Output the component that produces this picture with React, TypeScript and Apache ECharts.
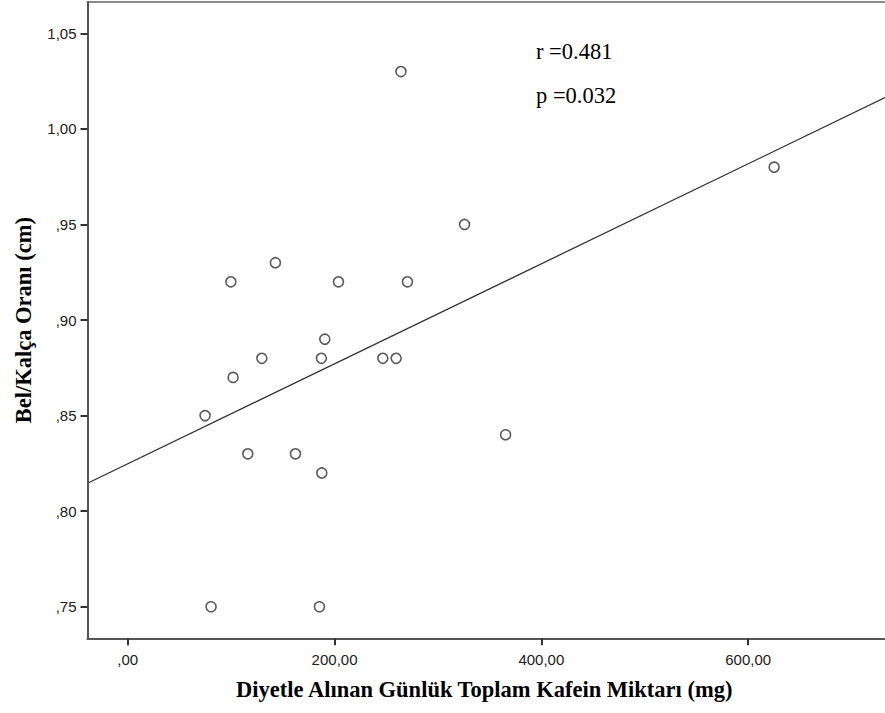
import React, { useEffect, useRef } from "react";
import * as echarts from "echarts";

const caffeineMg = [80.6, 185.4, 74.8, 101.9, 116.1, 129.7, 99.7, 142.8, 162.2, 187.7, 187.3, 190.6, 203.8, 246.7, 259.6, 264.2, 270.5, 325.7, 365.4, 625.1];
const waistHipRatio = [0.75, 0.75, 0.85, 0.87, 0.83, 0.88, 0.92, 0.93, 0.83, 0.82, 0.88, 0.89, 0.92, 0.88, 0.88, 1.03, 0.92, 0.95, 0.84, 0.98];
const xTicks = [0, 200, 400, 600];
const yTicks = [0.75, 0.8, 0.85, 0.9, 0.95, 1.0, 1.05];
const statLines = ["r =0.481", "p =0.032"];

const X_MIN = -38.9;
const X_MAX = 732.3;
const Y_MIN = 0.7335;
const Y_MAX = 1.0664;

function fmt(v: number): string {
  const s = v.toFixed(2).replace(".", ",");
  return s.startsWith("0,") ? s.slice(1) : s;
}

function regression(xs: number[], ys: number[]) {
  const n = xs.length;
  const mx = xs.reduce((a, b) => a + b, 0) / n;
  const my = ys.reduce((a, b) => a + b, 0) / n;
  let sxy = 0;
  let sxx = 0;
  for (let i = 0; i < n; i++) {
    sxy += (xs[i] - mx) * (ys[i] - my);
    sxx += (xs[i] - mx) * (xs[i] - mx);
  }
  const slope = sxy / sxx;
  return { slope, intercept: my - slope * mx };
}

export default function App() {
  const ref = useRef<HTMLDivElement>(null);
  useEffect(() => {
    if (!ref.current) return;
    const chart = echarts.init(ref.current, null, { renderer: "svg" });
    const { slope, intercept } = regression(caffeineMg, waistHipRatio);
    const fitLine = [
      [X_MIN, intercept + slope * X_MIN],
      [X_MAX, intercept + slope * X_MAX],
    ];
    const labelFont = "'Liberation Sans', Arial, sans-serif";
    const titleFont = "'Liberation Serif', 'Times New Roman', serif";
    chart.setOption({
      animation: false,
      grid: {
        left: 87.5,
        top: 2,
        right: 0,
        bottom: 74.7,
        show: false,
      },
      xAxis: [
        {
          type: "value",
          min: X_MIN,
          max: X_MAX,
          z: 5,
          name: "Diyetle Alınan Günlük Toplam Kafein Miktarı (mg)",
          nameLocation: "middle",
          nameGap: 40,
          nameTextStyle: {
            fontFamily: titleFont,
            fontWeight: "bold",
            fontSize: 22.5,
            color: "#000",
            padding: [0, 4, 0, 0],
          },
          axisLine: { show: true, onZero: false, lineStyle: { color: "#555", width: 2 } },
          axisTick: { show: true, customValues: xTicks, length: 7, lineStyle: { color: "#333", width: 2 } },
          axisLabel: {
            customValues: xTicks,
            formatter: (v: number) => fmt(v),
            fontFamily: labelFont,
            fontSize: 15,
            color: "#222",
            margin: 14,
          },
          splitLine: { show: false },
        },
        {
          type: "value",
          position: "top",
          min: X_MIN,
          max: X_MAX,
          z: 4,
          axisLine: { show: true, onZero: false, lineStyle: { color: "#8a8a8a", width: 2 } },
          axisTick: { show: false },
          axisLabel: { show: false },
          splitLine: { show: false },
        },
      ],
      yAxis: {
        type: "value",
        min: Y_MIN,
        max: Y_MAX,
        z: 5,
        name: "Bel/Kalça Oranı (cm)",
        nameLocation: "middle",
        nameGap: 53,
        nameTextStyle: { fontFamily: titleFont, fontWeight: "bold", fontSize: 22.5, color: "#000" },
        axisLine: { show: true, onZero: false, lineStyle: { color: "#555", width: 2 } },
        axisTick: { show: true, customValues: yTicks, length: 7, lineStyle: { color: "#333", width: 2 } },
        axisLabel: {
          customValues: yTicks,
          formatter: (v: number) => fmt(v),
          fontFamily: labelFont,
          fontSize: 15,
          color: "#222",
          margin: 11,
        },
        splitLine: { show: false },
      },
      series: [
        {
          type: "line",
          data: fitLine,
          symbol: "none",
          clip: true,
          lineStyle: { color: "#333", width: 1.3 },
          silent: true,
          z: 2,
        },
        {
          type: "scatter",
          data: caffeineMg.map((x, i) => [x, waistHipRatio[i]]),
          symbol: "circle",
          symbolSize: 10,
          itemStyle: { color: "#ffffff", borderColor: "#333", borderWidth: 1.6 },
          z: 3,
        },
      ],
      graphic: statLines.map((t, i) => ({
        type: "text",
        left: 536,
        top: 40 + i * 44,
        style: { text: t, fontFamily: titleFont, fontSize: 22.5, fill: "#000" },
      })),
    });
    return () => chart.dispose();
  }, []);
  return <div ref={ref} style={{ position: "absolute", left: 0, top: 0, width: 885, height: 713 }} />;
}
